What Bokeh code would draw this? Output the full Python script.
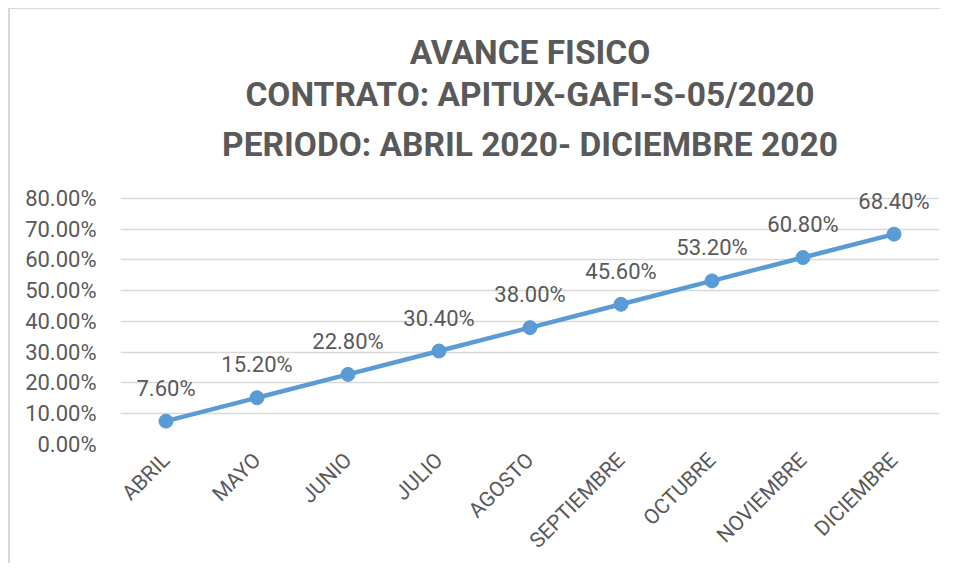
from math import pi
from bokeh.plotting import figure
from bokeh.models import ColumnDataSource, Range1d, FixedTicker, NumeralTickFormatter, Title
from bokeh.core.properties import value
from bokeh.embed import file_html
from bokeh.resources import INLINE

months = ["ABRIL", "MAYO", "JUNIO", "JULIO", "AGOSTO", "SEPTIEMBRE", "OCTUBRE", "NOVIEMBRE", "DICIEMBRE"]
avance = [0.076, 0.152, 0.228, 0.304, 0.380, 0.456, 0.532, 0.608, 0.684]
labels = ["7.60%", "15.20%", "22.80%", "30.40%", "38.00%", "45.60%", "53.20%", "60.80%", "68.40%"]
y_ticks = [0.0, 0.1, 0.2, 0.3, 0.4, 0.5, 0.6, 0.7, 0.8]
title_lines = ["AVANCE FISICO", "CONTRATO: APITUX-GAFI-S-05/2020", "PERIODO: ABRIL 2020- DICIEMBRE 2020"]

TXT = "#595959"
BLUE = "#5B9BD5"
FONT = "Roboto"

src = ColumnDataSource(dict(x=months, y=avance, lab=labels))

p = figure(x_range=months, y_range=Range1d(0, 0.878), width=932, height=555,
           output_backend="svg", toolbar_location=None, title=None,
           min_border_left=110, min_border_right=3, min_border_bottom=120, min_border_top=165,
           styles={"margin-left": "8px", "margin-top": "8px",
                   "border-left": "2px solid #D9D9D9", "border-top": "1px solid #D9D9D9"})

standoffs = [22, -4, 5]
for t, s in zip(reversed(title_lines), standoffs):
    p.add_layout(Title(text=t, align="center", text_font=FONT, text_font_size="33.5px",
                       text_font_style="bold", text_color=TXT, standoff=s), "above")

p.outline_line_color = None
p.background_fill_color = "white"
p.border_fill_color = "white"

p.xgrid.grid_line_color = None
p.ygrid.grid_line_color = "#D9D9D9"
p.ygrid.grid_line_width = 1.5
p.ygrid.ticker = FixedTicker(ticks=y_ticks)

p.yaxis.ticker = FixedTicker(ticks=y_ticks)
p.yaxis.formatter = NumeralTickFormatter(format="0.00%")
for ax in (p.xaxis, p.yaxis):
    ax.axis_line_color = None
    ax.major_tick_line_color = None
    ax.minor_tick_line_color = None
    ax.major_label_text_font = FONT
    ax.major_label_text_color = TXT
p.yaxis.major_label_text_font_size = "22px"
p.xaxis.major_label_text_font_size = "21px"
p.yaxis.major_label_standoff = 18
p.xaxis.major_label_standoff = 6
p.xaxis.major_label_orientation = pi / 4

p.line("x", "y", source=src, line_color=BLUE, line_width=4.5)
p.scatter("x", "y", source=src, size=14, fill_color=BLUE, line_color=BLUE)
p.text("x", "y", text="lab", source=src, text_align="center", text_baseline="middle",
       y_offset=-33, text_font=value(FONT), text_font_size="22px", text_color=TXT)

open("out.html", "w").write(file_html(p, INLINE))
